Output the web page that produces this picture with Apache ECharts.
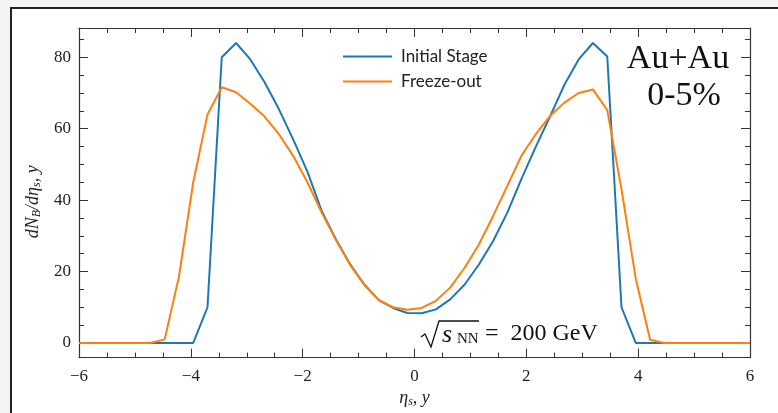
<!DOCTYPE html>
<html>
<head>
<meta charset="utf-8">
<script src="https://cdn.jsdelivr.net/npm/echarts@6/dist/echarts.min.js"></script>
<style>
html,body{margin:0;padding:0;background:#f4f4f4;}
#c{width:778px;height:413px;}
</style>
</head>
<body>
<div id="c"></div>
<script>
// pseudorapidity grid
const eta = [-6.000,-5.745,-5.489,-5.234,-4.979,-4.723,-4.468,-4.213,-3.957,-3.702,-3.447,-3.191,-2.936,-2.681,-2.426,-2.170,-1.915,-1.660,-1.404,-1.149,-0.894,-0.638,-0.383,-0.128,0.128,0.383,0.638,0.894,1.149,1.404,1.660,1.915,2.170,2.426,2.681,2.936,3.191,3.447,3.702,3.957,4.213,4.468,4.723,4.979,5.234,5.489,5.745,6.000];
const initialStage = [0,0,0,0,0,0,0,0,0,10,80,84,79.4,73,65.5,57,48,37,29,22,16.3,12,9.8,8.4,8.3,9.4,12.2,16.3,21.9,28.5,36.5,46,55,63.5,72.3,79.4,84,80.2,10,0,0,0,0,0,0,0,0,0];
const freezeOut = [0,0,0,0,0,0,1,18.5,45,64,71.6,70.2,67,63.4,58.5,52.4,45,36.5,28.8,21.8,16.2,12,10,9.3,9.8,11.8,15.5,21,27.5,35.5,44,52.5,58.5,63.6,67.3,70,71,65.2,43,18,0.9,0,0,0,0,0,0,0];
const seriesNames = ['Initial Stage','Freeze-out'];
const yMajorTicks = [0,20,40,60,80];
const yMinorTicks = [5,10,15,25,30,35,45,50,55,65,70,75,85];
const xTickInterval = 2;

const serif = "'Liberation Serif', 'DejaVu Serif', serif";
const axisColor = '#333';
const chart = echarts.init(document.getElementById('c'), null, {renderer:'canvas'});

const yMin = -4.1, yMax = 88.2;
function fmt(v){ return v < 0 ? '\u2212' + Math.abs(v) : String(v); }

const xBase = {
  type:'value', min:-6, max:6, interval:xTickInterval,
  axisLine:{show:true, onZero:false, lineStyle:{color:axisColor, width:1.2}},
  axisTick:{show:true, inside:true, length:9, lineStyle:{color:axisColor, width:1}},
  minorTick:{show:true, splitNumber:4, length:5, lineStyle:{color:axisColor, width:1}},
  splitLine:{show:false}, minorSplitLine:{show:false}
};
const yMain = (pos) => ({
  type:'value', min:yMin, max:yMax, position:pos,
  axisLine:{show:true, onZero:false, lineStyle:{color:axisColor, width:1.2}},
  axisTick:{show:true, inside:true, length:9, customValues:yMajorTicks, lineStyle:{color:axisColor, width:1}},
  axisLabel:{show:pos==='left', customValues:yMajorTicks, margin:8, color:'#222', fontFamily:serif, fontSize:17},
  splitLine:{show:false}
});
const yMinor = (pos) => ({
  type:'value', min:yMin, max:yMax, position:pos, offset:0,
  axisLine:{show:false, onZero:false},
  axisTick:{show:true, inside:true, length:5, customValues:yMinorTicks, lineStyle:{color:axisColor, width:1}},
  axisLabel:{show:false, customValues:yMinorTicks},
  splitLine:{show:false}
});

const richName = {
  i:{fontFamily:serif, fontStyle:'italic', fontSize:18, color:'#222'},
  s:{fontFamily:serif, fontStyle:'italic', fontSize:12, color:'#222', padding:[7,0,0,0]}
};

const option = {
  backgroundColor:'#f4f4f4',
  animation:false,
  grid:{left:79, right:28, top:28, bottom:49, containLabel:false},
  legend:{
    orient:'vertical', left:338, top:43, itemWidth:49, itemHeight:2, itemGap:8, icon:'rect',
    data:seriesNames,
    textStyle:{fontFamily:"Lato, 'Open Sans', sans-serif", fontSize:17, color:'#222', padding:[0,0,0,4]}
  },
  xAxis:[
    Object.assign({}, xBase, {
      position:'bottom',
      axisLabel:{show:true, margin:10, color:'#222', fontFamily:serif, fontSize:17, formatter:fmt},
      name:'{i|\u03B7}{s|s}{i|, y}', nameLocation:'middle', nameGap:26,
      nameTextStyle:{rich:richName}
    }),
    Object.assign({}, xBase, {position:'top', axisLabel:{show:false}})
  ],
  yAxis:[
    Object.assign(yMain('left'), {
      name:'{i|dN}{s|B}{i|/d\u03B7}{s|s}{i|, y}', nameLocation:'middle', nameGap:32,
      nameTextStyle:{rich:richName, padding:[0,18,0,0]}
    }),
    yMinor('left'),
    yMain('right'),
    yMinor('right')
  ],
  series:[
    {name:seriesNames[0], type:'line', symbol:'none', xAxisIndex:0, yAxisIndex:0,
     lineStyle:{color:'#1f77b4', width:2}, itemStyle:{color:'#1f77b4'},
     data:eta.map((x,i)=>[x, initialStage[i]])},
    {name:seriesNames[1], type:'line', symbol:'none', xAxisIndex:0, yAxisIndex:0,
     lineStyle:{color:'#ff7f0e', width:2}, itemStyle:{color:'#ff7f0e'},
     data:eta.map((x,i)=>[x, freezeOut[i]])}
  ],
  graphic:[
    {type:'rect', z:-100, silent:true, shape:{x:11, y:8, width:800, height:500},
     style:{fill:'#ffffff', stroke:'#222', lineWidth:2}},
    {type:'text', x:678, y:59, style:{text:'Au+Au', font:"34px 'Liberation Serif', serif", fill:'#111', textAlign:'center', textVerticalAlign:'middle'}},
    {type:'text', x:684, y:96, style:{text:'0-5%', font:"34px 'Liberation Serif', serif", fill:'#111', textAlign:'center', textVerticalAlign:'middle'}},
    {type:'polyline', shape:{points:[[421,337],[425,334],[431,347],[439,321],[479,321]]}, style:{stroke:'#111', lineWidth:1.3, fill:null}},
    {type:'text', x:442, y:335, style:{text:'s', font:"italic 26px 'Liberation Serif', serif", fill:'#111', textVerticalAlign:'middle'}},
    {type:'text', x:457, y:339, style:{text:'NN', font:"15px 'Liberation Serif', serif", fill:'#111', textVerticalAlign:'middle'}},
    {type:'text', x:485, y:334, style:{text:'=  200 GeV', font:"24px 'Liberation Serif', serif", fill:'#111', textVerticalAlign:'middle'}}
  ]
};
chart.setOption(option);
</script>
</body>
</html>
